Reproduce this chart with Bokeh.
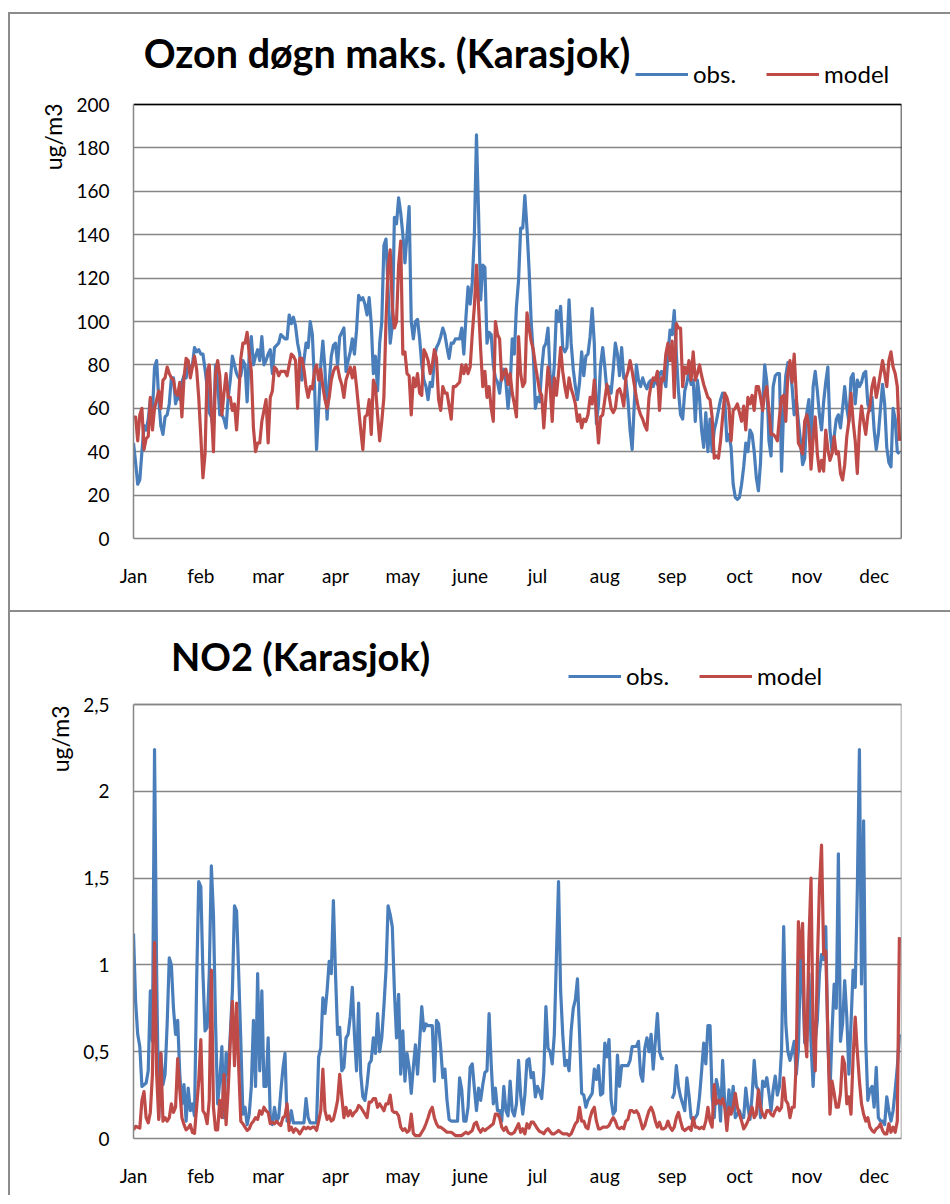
import numpy as np
from bokeh.plotting import figure
from bokeh.models import (ColumnDataSource, Range1d, FixedTicker, Label, Legend,
                          LegendItem, CustomJSTickFormatter, Spacer, Title)
from bokeh.layouts import column, row
from bokeh.embed import file_html
from bokeh.resources import INLINE

# ---------------- data ----------------
MONTHS = ["Jan", "feb", "mar", "apr", "may", "june", "jul", "aug", "sep", "oct", "nov", "dec"]
MONTH_TICK_DAYS = [0, 32, 64, 96, 128, 160, 192, 224, 256, 288, 320, 352]
OZONE_TICKS = [0, 20, 40, 60, 80, 100, 120, 140, 160, 180, 200]
NO2_TICKS = [0, 0.5, 1, 1.5, 2, 2.5]

OZONE_OBS = [
    44, 35, 25, 27, 40, 52, 50, 55, 64, 58,
    79, 82, 64, 52, 48, 56, 57, 62, 74, 74,
    62, 66, 64, 72, 75, 74, 80, 78, 80, 88,
    86, 87, 85, 85, 78, 70, 58, 56, 50, 80,
    72, 57, 57, 55, 51, 65, 73, 84, 80, 76,
    74, 75, 82, 80, 63, 85, 93, 80, 84, 87,
    82, 93, 80, 82, 85, 87, 76, 88, 89, 90,
    94, 93, 92, 92, 103, 99, 102, 98, 90, 85,
    73, 82, 90, 88, 100, 94, 72, 41, 60, 80,
    91, 78, 55, 72, 84, 89, 90, 80, 93, 95,
    97, 77, 82, 86, 92, 85, 96, 112, 110, 111,
    108, 103, 111, 99, 76, 84, 68, 90, 100, 135,
    138, 115, 90, 98, 148, 145, 157, 150, 140, 127,
    140, 153, 100, 92, 100, 101, 92, 80, 73, 70,
    64, 72, 70, 83, 88, 90, 93, 97, 94, 88,
    83, 90, 90, 92, 92, 92, 97, 85, 102, 116,
    108, 118, 140, 186, 150, 110, 126, 125, 90, 95,
    94, 80, 74, 72, 67, 76, 78, 72, 60, 70,
    92, 85, 107, 119, 143, 143, 158, 143, 124, 100,
    85, 60, 65, 63, 78, 88, 90, 97, 75, 67,
    80, 105, 100, 107, 88, 86, 88, 110, 90, 78,
    70, 64, 72, 86, 75, 84, 85, 93, 106, 90,
    53, 62, 80, 88, 79, 68, 70, 67, 78, 90,
    85, 75, 88, 74, 73, 64, 50, 41, 62, 80,
    73, 70, 74, 71, 69, 72, 73, 70, 74, 71,
    76, 77, 74, 70, 85, 96, 94, 105, 85, 68,
    57, 55, 68, 72, 77, 71, 73, 54, 73, 65,
    50, 42, 58, 40, 55, 40, 50, 54, 59, 64,
    67, 64, 45, 48, 42, 25, 19, 18, 19, 25,
    33, 44, 40, 50, 48, 40, 28, 22, 35, 62,
    80, 72, 45, 38, 70, 75, 76, 76, 31, 60,
    75, 81, 78, 70, 57, 64, 54, 45, 34, 37,
    58, 64, 41, 70, 77, 68, 57, 50, 63, 72,
    79, 50, 40, 47, 55, 57, 51, 60, 70, 60,
    54, 74, 76, 62, 73, 70, 72, 76, 77, 62,
    59, 65, 50, 41, 48, 60, 71, 62, 42, 35,
    33, 60, 55, 40, 39,
]

OZONE_MODEL = [
    56, 56, 45, 57, 60, 41, 46, 47, 65, 50,
    60, 64, 68, 60, 73, 74, 79, 76, 74, 73,
    67, 66, 72, 56, 74, 83, 82, 74, 79, 84,
    78, 65, 47, 28, 39, 77, 80, 59, 40, 76,
    82, 75, 57, 67, 76, 65, 65, 59, 62, 50,
    65, 83, 90, 90, 95, 85, 77, 51, 40, 44,
    44, 54, 59, 64, 44, 65, 68, 79, 78, 75,
    77, 77, 77, 75, 80, 85, 84, 82, 60, 83,
    83, 78, 70, 65, 70, 69, 77, 80, 73, 78,
    70, 64, 60, 65, 73, 77, 79, 79, 74, 71,
    65, 73, 76, 79, 74, 79, 70, 60, 50, 41,
    56, 57, 64, 48, 73, 70, 57, 45, 54, 65,
    100, 125, 133, 107, 97, 100, 126, 137, 85, 86,
    76, 75, 57, 74, 70, 76, 67, 66, 87, 85,
    82, 76, 80, 87, 83, 64, 59, 70, 67, 67,
    61, 55, 70, 70, 71, 72, 80, 76, 80, 76,
    79, 94, 107, 126, 107, 87, 70, 77, 65, 70,
    60, 54, 100, 94, 92, 73, 76, 78, 71, 76,
    67, 62, 56, 93, 76, 70, 72, 104, 97, 91,
    87, 80, 74, 68, 66, 51, 65, 79, 70, 54,
    74, 66, 76, 88, 77, 70, 65, 74, 69, 66,
    62, 54, 57, 51, 55, 54, 57, 65, 62, 73,
    57, 44, 56, 57, 64, 71, 66, 60, 58, 60,
    68, 69, 66, 61, 74, 77, 82, 77, 71, 65,
    60, 57, 55, 52, 50, 65, 71, 74, 73, 77,
    59, 74, 73, 85, 90, 82, 91, 65, 99, 97,
    97, 70, 79, 76, 82, 73, 86, 73, 76, 80,
    75, 71, 68, 65, 64, 56, 37, 38, 37, 45,
    56, 67, 65, 61, 45, 59, 60, 62, 58, 54,
    61, 50, 65, 62, 66, 59, 70, 70, 65, 59,
    67, 70, 59, 48, 48, 47, 45, 56, 65, 66,
    54, 76, 82, 72, 85, 66, 44, 42, 39, 54,
    57, 51, 32, 46, 56, 39, 31, 36, 31, 50,
    41, 36, 39, 47, 39, 40, 30, 27, 34, 47,
    54, 67, 54, 45, 30, 51, 61, 54, 48, 57,
    61, 70, 74, 65, 70, 76, 82, 76, 70, 82,
    86, 79, 76, 70, 45,
]

NO2_OBS = [
    1.18, 0.79, 0.60, 0.53, 0.30, 0.31, 0.32, 0.39, 0.85, 0.56,
    2.24, 0.95, 0.12, 0.49, 0.31, 0.37, 0.66, 1.04, 1.00, 0.75,
    0.60, 0.68, 0.37, 0.20, 0.31, 0.10, 0.29, 0.16, 0.20, 0.13,
    0.90, 1.48, 1.45, 0.95, 0.62, 0.64, 0.95, 1.57, 1.29, 0.66,
    0.20, 0.33, 0.53, 0.12, 0.49, 0.37, 0.60, 0.85, 1.34, 1.31,
    0.95, 0.56, 0.14, 0.18, 0.08, 0.14, 0.30, 0.68, 0.30, 0.95,
    0.39, 0.85, 0.30, 0.30, 0.58, 0.12, 0.08, 0.18, 0.10, 0.12,
    0.27, 0.40, 0.49, 0.10, 0.09, 0.16, 0.09, 0.09, 0.09, 0.09,
    0.09, 0.09, 0.23, 0.12, 0.09, 0.09, 0.09, 0.09, 0.47, 0.52,
    0.81, 0.72, 0.85, 1.02, 0.95, 1.37, 0.95, 0.60, 0.64, 0.39,
    0.41, 0.58, 0.60, 0.70, 0.87, 0.60, 0.39, 0.78, 0.37, 0.24,
    0.22, 0.31, 0.43, 0.45, 0.58, 0.49, 0.72, 0.50, 0.58, 0.76,
    0.97, 1.34, 1.29, 1.22, 0.85, 0.58, 0.83, 0.37, 0.62, 0.33,
    0.49, 0.41, 0.26, 0.41, 0.54, 0.37, 0.56, 0.76, 0.62, 0.66,
    0.65, 0.65, 0.65, 0.33, 0.68, 0.66, 0.52, 0.35, 0.40, 0.22,
    0.11, 0.10, 0.10, 0.10, 0.10, 0.35, 0.28, 0.10, 0.10, 0.18,
    0.41, 0.43, 0.29, 0.16, 0.29, 0.22, 0.31, 0.38, 0.39, 0.72,
    0.43, 0.20, 0.29, 0.16, 0.16, 0.10, 0.30, 0.16, 0.13, 0.33,
    0.16, 0.13, 0.20, 0.45, 0.25, 0.14, 0.25, 0.45, 0.46, 0.35,
    0.38, 0.24, 0.30, 0.27, 0.23, 0.38, 0.76, 0.52, 0.50, 0.43,
    0.60, 1.05, 1.48, 0.85, 0.60, 0.42, 0.45, 0.39, 0.62, 0.75,
    0.80, 0.92, 0.60, 0.26, 0.25, 0.18, 0.22, 0.24, 0.26, 0.40,
    0.34, 0.42, 0.25, 0.26, 0.55, 0.47, 0.57, 0.22, 0.14, 0.16,
    0.48, 0.30, 0.42, 0.42, 0.42, 0.42, 0.45, 0.53, 0.53, 0.53,
    0.56, 0.37, 0.33, 0.52, 0.58, 0.50, 0.60, 0.40, 0.56, 0.72,
    0.50, 0.46, 0.46, None, None, None, 0.23, 0.26, 0.42, 0.30,
    0.24, 0.20, 0.16, 0.35, 0.25, 0.12, 0.10, 0.12, 0.14, 0.24,
    0.39, 0.55, 0.43, 0.65, 0.65, 0.24, 0.12, 0.34, 0.28, 0.10,
    0.45, 0.20, 0.12, 0.28, 0.15, 0.30, 0.12, 0.14, 0.16, 0.12,
    0.12, 0.29, 0.18, 0.11, 0.25, 0.45, 0.30, 0.28, 0.12, 0.33,
    0.30, 0.35, 0.26, 0.16, 0.28, 0.36, 0.25, 0.30, 0.51, 1.22,
    0.66, 0.50, 0.45, 0.50, 0.56, 0.37, 0.51, 1.03, 0.90, 0.55,
    0.56, 0.95, 0.55, 0.30, 0.56, 0.68, 0.95, 1.06, 1.03, 1.22,
    0.56, 0.26, 0.62, 0.89, 0.75, 1.64, 0.56, 0.66, 0.91, 0.70,
    0.37, 0.66, 0.97, 0.87, 1.43, 2.24, 0.89, 1.83, 0.56, 0.22,
    0.28, 0.30, 0.18, 0.41, 0.12, 0.10, 0.10, 0.08, 0.24, 0.16,
    0.10, 0.16, 0.28, 0.41, 0.60,
]

NO2_MODEL = [
    0.05, 0.07, 0.065, 0.06, 0.22, 0.27, 0.12, 0.09, 0.15, 0.37,
    1.13, 0.37, 0.11, 0.49, 0.10, 0.12, 0.10, 0.12, 0.20, 0.15,
    0.18, 0.46, 0.28, 0.12, 0.08, 0.05, 0.06, 0.08, 0.035, 0.03,
    0.18, 0.33, 0.57, 0.16, 0.14, 0.085, 0.22, 0.97, 0.18, 0.05,
    0.05, 0.22, 0.12, 0.37, 0.08, 0.28, 0.56, 0.79, 0.42, 0.78,
    0.41, 0.10, 0.085, 0.065, 0.046, 0.056, 0.085, 0.10, 0.12, 0.11,
    0.16, 0.14, 0.18, 0.16, 0.15, 0.085, 0.094, 0.085, 0.10, 0.085,
    0.075, 0.12, 0.13, 0.20, 0.046, 0.065, 0.036, 0.056, 0.046, 0.027,
    0.046, 0.065, 0.056, 0.065, 0.056, 0.065, 0.065, 0.046, 0.10, 0.16,
    0.40, 0.16, 0.11, 0.13, 0.10, 0.11, 0.16, 0.22, 0.37, 0.24,
    0.12, 0.18, 0.13, 0.16, 0.13, 0.15, 0.16, 0.19, 0.18, 0.16,
    0.14, 0.12, 0.21, 0.21, 0.23, 0.23, 0.18, 0.20, 0.18, 0.16,
    0.20, 0.20, 0.25, 0.16, 0.15, 0.15, 0.13, 0.065, 0.046, 0.056,
    0.036, 0.046, 0.14, 0.03, 0.017, 0.017, 0.017, 0.036, 0.056, 0.085,
    0.12, 0.16, 0.18, 0.12, 0.085, 0.065, 0.065, 0.056, 0.046, 0.036,
    0.036, 0.036, 0.027, 0.017, 0.017, 0.017, 0.017, 0.027, 0.036, 0.027,
    0.036, 0.046, 0.085, 0.094, 0.056, 0.036, 0.056, 0.046, 0.056, 0.065,
    0.075, 0.085, 0.14, 0.14, 0.12, 0.065, 0.046, 0.065, 0.036, 0.027,
    0.027, 0.036, 0.06, 0.085, 0.036, 0.056, 0.027, 0.085, 0.06, 0.094,
    0.094, 0.075, 0.056, 0.04, 0.036, 0.027, 0.046, 0.056, 0.04, 0.027,
    0.027, 0.036, 0.046, 0.036, 0.027, 0.027, 0.027, 0.017, 0.027, 0.056,
    0.085, 0.10, 0.18, 0.10, 0.10, 0.065, 0.056, 0.12, 0.16, 0.18,
    0.10, 0.056, 0.056, 0.065, 0.065, 0.065, 0.075, 0.10, 0.12, 0.10,
    0.065, 0.056, 0.065, 0.056, 0.10, 0.11, 0.16, 0.16, 0.15, 0.16,
    0.14, 0.10, 0.056, 0.075, 0.12, 0.16, 0.18, 0.15, 0.10, 0.065,
    0.094, 0.056, 0.056, 0.065, 0.10, 0.065, 0.046, 0.065, 0.12, 0.15,
    0.10, 0.056, 0.046, 0.056, 0.065, 0.046, 0.12, 0.065, 0.065, 0.056,
    0.065, 0.056, 0.10, 0.18, 0.10, 0.065, 0.31, 0.20, 0.22, 0.20,
    0.23, 0.18, 0.046, 0.18, 0.14, 0.18, 0.26, 0.18, 0.14, 0.10,
    0.056, 0.075, 0.10, 0.14, 0.18, 0.12, 0.14, 0.28, 0.18, 0.14,
    0.12, 0.16, 0.16, 0.14, 0.13, 0.16, 0.18, 0.16, 0.18, 0.35,
    0.22, 0.20, 0.12, 0.18, 0.18, 0.45, 1.25, 1.04, 1.24, 0.60,
    0.47, 1.14, 1.50, 0.60, 0.39, 1.00, 1.45, 1.69, 1.06, 1.08,
    0.60, 0.14, 0.33, 0.26, 0.18, 0.18, 0.26, 0.47, 0.43, 0.20,
    0.24, 0.14, 0.47, 0.70, 0.50, 0.33, 0.20, 0.14, 0.10, 0.12,
    0.065, 0.046, 0.036, 0.056, 0.065, 0.085, 0.046, 0.027, 0.027, 0.085,
    0.036, 0.065, 0.036, 0.10, 1.16,
]

# ---------------- styling ----------------
BLUE = "#4A7EBB"
RED = "#BE4B48"
GRID = "#868686"
FRAME = "#8c8c8c"
FONT = "Lato"
W = 940
X_END = 365
PLOT_H = 434          # pixel height of the 0..max data area


def make_panel(obs, model, ticks, height, top_pad, bottom, box_color, title,
               title_size, title_xy, ylab_offset, legend_xy, comma=False):
    n = len(obs)
    y_max = ticks[-1]
    # the frame reaches up to the top of the panel so that the title and
    # legend (which sit above the data area) are not clipped
    y_top = y_max * (PLOT_H + top_pad) / PLOT_H
    src = ColumnDataSource(dict(day=np.arange(n),
                                obs=np.array(obs, dtype=float),
                                model=np.array(model, dtype=float)))
    p = figure(width=W, height=height, x_range=Range1d(0, X_END),
               y_range=Range1d(0, y_top),
               output_backend="svg", toolbar_location=None,
               min_border_left=123, min_border_right=49,
               min_border_top=0, min_border_bottom=bottom)
    p.background_fill_color = "white"
    p.border_fill_color = "white"
    p.outline_line_color = None

    p.xaxis.ticker = FixedTicker(ticks=MONTH_TICK_DAYS)
    p.xaxis.major_label_overrides = {d: m for d, m in zip(MONTH_TICK_DAYS, MONTHS)}
    p.yaxis.ticker = FixedTicker(ticks=ticks)
    p.yaxis.bounds = (0, y_max)
    p.ygrid.ticker = FixedTicker(ticks=ticks)
    if comma:
        p.yaxis.formatter = CustomJSTickFormatter(
            code="return String(tick).replace('.', ',');")
    p.xgrid.visible = False
    p.ygrid.grid_line_color = GRID
    p.ygrid.grid_line_width = 1.5
    for ax in (p.xaxis, p.yaxis):
        ax.axis_line_color = GRID
        ax.axis_line_width = 1.5
        ax.major_tick_line_color = None
        ax.minor_tick_line_color = None
        ax.major_label_text_font = FONT
        ax.major_label_text_font_size = "19px"
        ax.major_label_text_color = "black"
    p.xaxis.major_label_standoff = 19
    p.yaxis.major_label_standoff = 18

    r_obs = p.line("day", "obs", source=src, color=BLUE, line_width=3.2,
                   line_join="round")
    r_mod = p.line("day", "model", source=src, color=RED, line_width=3.2,
                   line_join="round")

    # top and right edges of the plot area
    p.segment(x0=[0, X_END], y0=[y_max, 0], x1=[X_END, X_END], y1=[y_max, y_max],
              line_color=box_color, line_width=1.5)

    p.add_layout(Label(x=title_xy[0], y=title_xy[1], text=title,
                       text_font=FONT, text_font_style="bold",
                       text_font_size=title_size, text_color="black",
                       text_align="center", text_baseline="middle"))
    p.add_layout(Title(text="ug/m3", align="right", offset=ylab_offset,
                       standoff=13, text_font=FONT, text_font_size="23px",
                       text_font_style="normal", text_color="black"), "left")

    leg = Legend(items=[LegendItem(label="obs.", renderers=[r_obs]),
                        LegendItem(label="model", renderers=[r_mod])],
                 orientation="horizontal", location=legend_xy,
                 glyph_width=53, glyph_height=20, label_standoff=5,
                 spacing=30, padding=0, margin=0,
                 border_line_alpha=0, background_fill_alpha=0,
                 label_text_font=FONT, label_text_font_size="24px",
                 label_text_color="black")
    p.add_layout(leg)
    return p


p1 = make_panel(OZONE_OBS, OZONE_MODEL, OZONE_TICKS, 596, 90, 72, "black",
                "Ozon døgn maks. (Karasjok)", "39.5px", (120.5, 224.0), 89,
                (502, 450), )
p2 = make_panel(NO2_OBS, NO2_MODEL, NO2_TICKS, 583, 92, 57, GRID,
                "NO2 (Karasjok)", "38px", (79.4, 2.78), 93,
                (435, 448), comma=True)

grey = {"background-color": FRAME}
top_gap = Spacer(width=950, height=12)
left_gap = Spacer(width=8, height=1183)
top_line = Spacer(width=942, height=2, styles=grey)
divider = Spacer(width=W, height=2, styles=grey)
left_line = Spacer(width=2, height=596 + 2 + 583, styles=grey)
layout = column(top_gap,
                row(left_gap,
                    column(top_line, row(left_line, column(p1, divider, p2)))))

open("out.html", "w").write(file_html(layout, INLINE))
